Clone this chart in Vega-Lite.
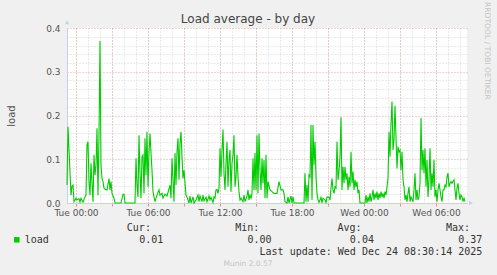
{
"$schema": "https://vega.github.io/schema/vega-lite/v6.json",
"width": 400,
"height": 175,
"autosize": "none",
"padding": {"left": 67, "top": 28, "right": 30, "bottom": 72},
"background": "#f0f0f0",
"config": {"view": {"fill": "#ffffff", "stroke": null}, "font": "DejaVu Sans"},
"data": {"values": [
{"time":"2025-12-22T23:15:00","load":0.041},{"time":"2025-12-22T23:20:00","load":0.174},{"time":"2025-12-22T23:35:00","load":0.018},{"time":"2025-12-22T23:40:00","load":0.039},{"time":"2025-12-22T23:45:00","load":0.041},{"time":"2025-12-22T23:50:00","load":0.003},
{"time":"2025-12-23T00:00:00","load":0.011},{"time":"2025-12-23T00:05:00","load":0.007},{"time":"2025-12-23T00:15:00","load":0.010},{"time":"2025-12-23T00:20:00","load":0.002},{"time":"2025-12-23T00:25:00","load":0.011},{"time":"2025-12-23T00:35:00","load":0.002},{"time":"2025-12-23T00:45:00","load":0.014},{"time":"2025-12-23T00:50:00","load":0.018},{"time":"2025-12-23T00:55:00","load":0.133},
{"time":"2025-12-23T01:00:00","load":0.140},{"time":"2025-12-23T01:05:00","load":0.049},{"time":"2025-12-23T01:10:00","load":0.018},{"time":"2025-12-23T01:15:00","load":0.091},{"time":"2025-12-23T01:20:00","load":0.045},{"time":"2025-12-23T01:25:00","load":0.003},{"time":"2025-12-23T01:30:00","load":0.110},{"time":"2025-12-23T01:35:00","load":0.064},{"time":"2025-12-23T01:40:00","load":0.087},{"time":"2025-12-23T01:45:00","load":0.171},{"time":"2025-12-23T01:50:00","load":0.018},{"time":"2025-12-23T01:55:00","load":0.155},
{"time":"2025-12-23T02:00:00","load":0.370},{"time":"2025-12-23T02:05:00","load":0.087},{"time":"2025-12-23T02:10:00","load":0.056},{"time":"2025-12-23T02:15:00","load":0.049},{"time":"2025-12-23T02:20:00","load":0.034},{"time":"2025-12-23T02:30:00","load":0.030},{"time":"2025-12-23T02:35:00","load":0.030},{"time":"2025-12-23T02:45:00","load":0.056},{"time":"2025-12-23T02:50:00","load":0.030},{"time":"2025-12-23T02:55:00","load":0.049},
{"time":"2025-12-23T03:00:00","load":0.022},{"time":"2025-12-23T03:10:00","load":0.011},{"time":"2025-12-23T03:15:00","load":0},{"time":"2025-12-23T03:45:00","load":0},{"time":"2025-12-23T03:55:00","load":0.020},{"time":"2025-12-23T04:00:00","load":0.020},{"time":"2025-12-23T04:05:00","load":0},{"time":"2025-12-23T04:55:00","load":0},
{"time":"2025-12-23T05:00:00","load":0.102},{"time":"2025-12-23T05:05:00","load":0.041},{"time":"2025-12-23T05:10:00","load":0.014},{"time":"2025-12-23T05:15:00","load":0.155},{"time":"2025-12-23T05:20:00","load":0.068},{"time":"2025-12-23T05:25:00","load":0.011},{"time":"2025-12-23T05:30:00","load":0.106},{"time":"2025-12-23T05:35:00","load":0.110},{"time":"2025-12-23T05:40:00","load":0.022},{"time":"2025-12-23T05:45:00","load":0.148},{"time":"2025-12-23T05:50:00","load":0.064},{"time":"2025-12-23T05:55:00","load":0.163},
{"time":"2025-12-23T06:00:00","load":0.037},{"time":"2025-12-23T06:05:00","load":0.114},{"time":"2025-12-23T06:10:00","load":0.159},{"time":"2025-12-23T06:15:00","load":0.114},{"time":"2025-12-23T06:20:00","load":0.075},{"time":"2025-12-23T06:25:00","load":0.026},{"time":"2025-12-23T06:30:00","load":0.014},{"time":"2025-12-23T06:35:00","load":0.003},{"time":"2025-12-23T06:45:00","load":0.018},{"time":"2025-12-23T06:55:00","load":0.030},
{"time":"2025-12-23T07:00:00","load":0.018},{"time":"2025-12-23T07:10:00","load":0.022},{"time":"2025-12-23T07:15:00","load":0.011},{"time":"2025-12-23T07:25:00","load":0.020},{"time":"2025-12-23T07:35:00","load":0.016},{"time":"2025-12-23T07:40:00","load":0.024},{"time":"2025-12-23T07:50:00","load":0.041},{"time":"2025-12-23T07:55:00","load":0.011},
{"time":"2025-12-23T08:00:00","load":0.102},{"time":"2025-12-23T08:05:00","load":0.053},{"time":"2025-12-23T08:10:00","load":0.003},{"time":"2025-12-23T08:15:00","load":0.114},{"time":"2025-12-23T08:20:00","load":0.041},{"time":"2025-12-23T08:25:00","load":0.117},{"time":"2025-12-23T08:30:00","load":0.148},{"time":"2025-12-23T08:35:00","load":0.053},{"time":"2025-12-23T08:40:00","load":0.136},{"time":"2025-12-23T08:45:00","load":0.163},{"time":"2025-12-23T08:50:00","load":0.106},{"time":"2025-12-23T08:55:00","load":0.056},
{"time":"2025-12-23T09:00:00","load":0.075},{"time":"2025-12-23T09:10:00","load":0.018},{"time":"2025-12-23T09:15:00","load":0.014},{"time":"2025-12-23T09:25:00","load":0},{"time":"2025-12-23T09:30:00","load":0.016},{"time":"2025-12-23T09:35:00","load":0},{"time":"2025-12-23T09:45:00","load":0.014},{"time":"2025-12-23T09:50:00","load":0},
{"time":"2025-12-23T10:00:00","load":0.007},{"time":"2025-12-23T10:10:00","load":0.018},{"time":"2025-12-23T10:15:00","load":0.003},{"time":"2025-12-23T10:20:00","load":0.016},{"time":"2025-12-23T10:30:00","load":0.003},{"time":"2025-12-23T10:35:00","load":0.018},{"time":"2025-12-23T10:40:00","load":0.005},{"time":"2025-12-23T10:50:00","load":0.013},{"time":"2025-12-23T10:55:00","load":0.003},
{"time":"2025-12-23T11:05:00","load":0.016},{"time":"2025-12-23T11:10:00","load":0.007},{"time":"2025-12-23T11:15:00","load":0.013},{"time":"2025-12-23T11:25:00","load":0.001},{"time":"2025-12-23T11:30:00","load":0.014},{"time":"2025-12-23T11:35:00","load":0.011},{"time":"2025-12-23T11:40:00","load":0.030},{"time":"2025-12-23T11:45:00","load":0.031},{"time":"2025-12-23T11:50:00","load":0.022},{"time":"2025-12-23T11:55:00","load":0.034},
{"time":"2025-12-23T12:00:00","load":0.125},{"time":"2025-12-23T12:05:00","load":0.060},{"time":"2025-12-23T12:10:00","load":0.121},{"time":"2025-12-23T12:15:00","load":0.168},{"time":"2025-12-23T12:20:00","load":0.068},{"time":"2025-12-23T12:25:00","load":0.030},{"time":"2025-12-23T12:30:00","load":0.091},{"time":"2025-12-23T12:35:00","load":0.140},{"time":"2025-12-23T12:40:00","load":0.037},{"time":"2025-12-23T12:45:00","load":0.098},{"time":"2025-12-23T12:50:00","load":0.121},{"time":"2025-12-23T12:55:00","load":0.026},
{"time":"2025-12-23T13:00:00","load":0.091},{"time":"2025-12-23T13:05:00","load":0.110},{"time":"2025-12-23T13:10:00","load":0.155},{"time":"2025-12-23T13:15:00","load":0.037},{"time":"2025-12-23T13:20:00","load":0.060},{"time":"2025-12-23T13:25:00","load":0.110},{"time":"2025-12-23T13:30:00","load":0.060},{"time":"2025-12-23T13:35:00","load":0.026},{"time":"2025-12-23T13:40:00","load":0.007},{"time":"2025-12-23T13:45:00","load":0.011},{"time":"2025-12-23T13:55:00","load":0.003},
{"time":"2025-12-23T14:00:00","load":0.018},{"time":"2025-12-23T14:05:00","load":0.003},{"time":"2025-12-23T14:15:00","load":0.016},{"time":"2025-12-23T14:20:00","load":0.030},{"time":"2025-12-23T14:25:00","load":0.007},{"time":"2025-12-23T14:30:00","load":0.018},{"time":"2025-12-23T14:35:00","load":0.011},{"time":"2025-12-23T14:40:00","load":0.022},{"time":"2025-12-23T14:45:00","load":0.102},{"time":"2025-12-23T14:50:00","load":0.030},{"time":"2025-12-23T14:55:00","load":0.114},
{"time":"2025-12-23T15:00:00","load":0.030},{"time":"2025-12-23T15:05:00","load":0.155},{"time":"2025-12-23T15:10:00","load":0.022},{"time":"2025-12-23T15:15:00","load":0.159},{"time":"2025-12-23T15:20:00","load":0.075},{"time":"2025-12-23T15:25:00","load":0.030},{"time":"2025-12-23T15:30:00","load":0.102},{"time":"2025-12-23T15:35:00","load":0.045},{"time":"2025-12-23T15:40:00","load":0.098},{"time":"2025-12-23T15:45:00","load":0.011},{"time":"2025-12-23T15:50:00","load":0.110},{"time":"2025-12-23T15:55:00","load":0.011},
{"time":"2025-12-23T16:00:00","load":0.049},{"time":"2025-12-23T16:10:00","load":0.030},{"time":"2025-12-23T16:20:00","load":0.026},{"time":"2025-12-23T16:30:00","load":0.022},{"time":"2025-12-23T16:35:00","load":0.022},{"time":"2025-12-23T16:45:00","load":0.022},{"time":"2025-12-23T16:55:00","load":0.049},
{"time":"2025-12-23T17:05:00","load":0.030},{"time":"2025-12-23T17:15:00","load":0.030},{"time":"2025-12-23T17:20:00","load":0.022},{"time":"2025-12-23T17:25:00","load":0.003},{"time":"2025-12-23T17:35:00","load":0},{"time":"2025-12-23T17:40:00","load":0.014},{"time":"2025-12-23T17:45:00","load":0},{"time":"2025-12-23T17:55:00","load":0.016},
{"time":"2025-12-23T18:00:00","load":0},{"time":"2025-12-23T18:05:00","load":0.014},{"time":"2025-12-23T18:10:00","load":0},{"time":"2025-12-23T19:00:00","load":0},
{"time":"2025-12-23T19:05:00","load":0.068},{"time":"2025-12-23T19:10:00","load":0.003},{"time":"2025-12-23T19:15:00","load":0.041},{"time":"2025-12-23T19:20:00","load":0.003},{"time":"2025-12-23T19:25:00","load":0.064},{"time":"2025-12-23T19:30:00","load":0.060},{"time":"2025-12-23T19:35:00","load":0.178},{"time":"2025-12-23T19:40:00","load":0.007},{"time":"2025-12-23T19:45:00","load":0.178},{"time":"2025-12-23T19:50:00","load":0.087},{"time":"2025-12-23T19:55:00","load":0.140},
{"time":"2025-12-23T20:00:00","load":0.060},{"time":"2025-12-23T20:05:00","load":0.022},{"time":"2025-12-23T20:10:00","load":0.007},{"time":"2025-12-23T20:15:00","load":0.001},{"time":"2025-12-23T20:25:00","load":0.013},{"time":"2025-12-23T20:30:00","load":0},{"time":"2025-12-23T20:35:00","load":0.011},{"time":"2025-12-23T20:45:00","load":0.007},{"time":"2025-12-23T20:50:00","load":0.001},{"time":"2025-12-23T20:55:00","load":0.014},
{"time":"2025-12-23T21:05:00","load":0.013},{"time":"2025-12-23T21:10:00","load":0.007},{"time":"2025-12-23T21:15:00","load":0.034},{"time":"2025-12-23T21:20:00","load":0.056},{"time":"2025-12-23T21:25:00","load":0.030},{"time":"2025-12-23T21:30:00","load":0.022},{"time":"2025-12-23T21:35:00","load":0.037},{"time":"2025-12-23T21:40:00","load":0.034},{"time":"2025-12-23T21:45:00","load":0.140},{"time":"2025-12-23T21:50:00","load":0.053},{"time":"2025-12-23T21:55:00","load":0.072},
{"time":"2025-12-23T22:00:00","load":0.106},{"time":"2025-12-23T22:05:00","load":0.196},{"time":"2025-12-23T22:10:00","load":0.030},{"time":"2025-12-23T22:15:00","load":0.083},{"time":"2025-12-23T22:20:00","load":0.045},{"time":"2025-12-23T22:25:00","load":0.083},{"time":"2025-12-23T22:30:00","load":0.053},{"time":"2025-12-23T22:35:00","load":0.068},{"time":"2025-12-23T22:40:00","load":0.030},{"time":"2025-12-23T22:45:00","load":0.060},{"time":"2025-12-23T22:50:00","load":0.037},{"time":"2025-12-23T22:55:00","load":0.117},
{"time":"2025-12-23T23:00:00","load":0.045},{"time":"2025-12-23T23:05:00","load":0.072},{"time":"2025-12-23T23:10:00","load":0.030},{"time":"2025-12-23T23:15:00","load":0.053},{"time":"2025-12-23T23:20:00","load":0.037},{"time":"2025-12-23T23:25:00","load":0.049},{"time":"2025-12-23T23:30:00","load":0.022},{"time":"2025-12-23T23:35:00","load":0.030},{"time":"2025-12-23T23:40:00","load":0},
{"time":"2025-12-24T00:05:00","load":0},{"time":"2025-12-24T00:10:00","load":0.018},{"time":"2025-12-24T00:15:00","load":0},{"time":"2025-12-24T00:20:00","load":0.014},{"time":"2025-12-24T00:25:00","load":0.003},{"time":"2025-12-24T00:30:00","load":0.022},{"time":"2025-12-24T00:35:00","load":0.003},{"time":"2025-12-24T00:40:00","load":0.014},{"time":"2025-12-24T00:45:00","load":0.030},{"time":"2025-12-24T00:50:00","load":0.007},{"time":"2025-12-24T00:55:00","load":0.022},
{"time":"2025-12-24T01:00:00","load":0.011},{"time":"2025-12-24T01:05:00","load":0.026},{"time":"2025-12-24T01:10:00","load":0.007},{"time":"2025-12-24T01:15:00","load":0.022},{"time":"2025-12-24T01:20:00","load":0.011},{"time":"2025-12-24T01:25:00","load":0.026},{"time":"2025-12-24T01:30:00","load":0.014},{"time":"2025-12-24T01:35:00","load":0.022},{"time":"2025-12-24T01:40:00","load":0.011},{"time":"2025-12-24T01:45:00","load":0.026},{"time":"2025-12-24T01:50:00","load":0.018},{"time":"2025-12-24T01:55:00","load":0.037},
{"time":"2025-12-24T02:00:00","load":0.056},{"time":"2025-12-24T02:05:00","load":0.163},{"time":"2025-12-24T02:10:00","load":0.106},{"time":"2025-12-24T02:15:00","load":0.182},{"time":"2025-12-24T02:20:00","load":0.232},{"time":"2025-12-24T02:25:00","load":0.121},{"time":"2025-12-24T02:30:00","load":0.145},{"time":"2025-12-24T02:35:00","load":0.222},{"time":"2025-12-24T02:40:00","load":0.150},{"time":"2025-12-24T02:45:00","load":0.079},{"time":"2025-12-24T02:50:00","load":0.129},{"time":"2025-12-24T02:55:00","load":0.117},
{"time":"2025-12-24T03:00:00","load":0.121},{"time":"2025-12-24T03:05:00","load":0.075},{"time":"2025-12-24T03:10:00","load":0.117},{"time":"2025-12-24T03:15:00","load":0.053},{"time":"2025-12-24T03:20:00","load":0.037},{"time":"2025-12-24T03:25:00","load":0.007},{"time":"2025-12-24T03:30:00","load":0.018},{"time":"2025-12-24T03:35:00","load":0.003},{"time":"2025-12-24T03:40:00","load":0.022},{"time":"2025-12-24T03:45:00","load":0.037},{"time":"2025-12-24T03:50:00","load":0.003},{"time":"2025-12-24T03:55:00","load":0.014},
{"time":"2025-12-24T04:05:00","load":0.003},{"time":"2025-12-24T04:10:00","load":0.030},{"time":"2025-12-24T04:15:00","load":0.068},{"time":"2025-12-24T04:20:00","load":0.007},{"time":"2025-12-24T04:25:00","load":0.030},{"time":"2025-12-24T04:30:00","load":0.007},{"time":"2025-12-24T04:35:00","load":0.014},{"time":"2025-12-24T04:40:00","load":0.045},{"time":"2025-12-24T04:45:00","load":0.194},{"time":"2025-12-24T04:50:00","load":0.075},{"time":"2025-12-24T04:55:00","load":0.121},
{"time":"2025-12-24T05:00:00","load":0.068},{"time":"2025-12-24T05:05:00","load":0.125},{"time":"2025-12-24T05:10:00","load":0.037},{"time":"2025-12-24T05:15:00","load":0.098},{"time":"2025-12-24T05:20:00","load":0.014},{"time":"2025-12-24T05:25:00","load":0.053},{"time":"2025-12-24T05:30:00","load":0.125},{"time":"2025-12-24T05:35:00","load":0.030},{"time":"2025-12-24T05:40:00","load":0.068},{"time":"2025-12-24T05:45:00","load":0.037},{"time":"2025-12-24T05:50:00","load":0.098},{"time":"2025-12-24T05:55:00","load":0.014},
{"time":"2025-12-24T06:00:00","load":0.030},{"time":"2025-12-24T06:05:00","load":0.003},{"time":"2025-12-24T06:10:00","load":0.030},{"time":"2025-12-24T06:15:00","load":0.045},{"time":"2025-12-24T06:20:00","load":0.030},{"time":"2025-12-24T06:25:00","load":0.014},{"time":"2025-12-24T06:30:00","load":0.003},{"time":"2025-12-24T06:35:00","load":0.030},{"time":"2025-12-24T06:40:00","load":0.030},{"time":"2025-12-24T06:45:00","load":0.041},{"time":"2025-12-24T06:50:00","load":0.037},{"time":"2025-12-24T06:55:00","load":0.060},
{"time":"2025-12-24T07:00:00","load":0.068},{"time":"2025-12-24T07:05:00","load":0.037},{"time":"2025-12-24T07:10:00","load":0.045},{"time":"2025-12-24T07:15:00","load":0.049},{"time":"2025-12-24T07:20:00","load":0.045},{"time":"2025-12-24T07:25:00","load":0.049},{"time":"2025-12-24T07:30:00","load":0.053},{"time":"2025-12-24T07:35:00","load":0.030},{"time":"2025-12-24T07:40:00","load":0.007},{"time":"2025-12-24T07:45:00","load":0.034},{"time":"2025-12-24T07:50:00","load":0.045},{"time":"2025-12-24T07:55:00","load":0.022},
{"time":"2025-12-24T08:00:00","load":0.007},{"time":"2025-12-24T08:05:00","load":0.018},{"time":"2025-12-24T08:10:00","load":0.014},{"time":"2025-12-24T08:15:00","load":0.003},{"time":"2025-12-24T08:20:00","load":0.011},{"time":"2025-12-24T08:25:00","load":0.003}
]},
"resolve": {"axis": {"x": "independent", "y": "independent"}},
"layer": [
{
"mark": {"type": "line", "opacity": 0},
"encoding": {
"x": {"field": "time", "type": "temporal", "title": null,
"scale": {"domain": [{"year": 2025, "month": 12, "date": 22, "hours": 23, "minutes": 15}, {"year": 2025, "month": 12, "date": 24, "hours": 8, "minutes": 35}]},
"axis": {"orient": "bottom", "tickCount": 34, "grid": true, "gridColor": "#d4d4d4", "gridDash": [1, 2], "labels": false, "ticks": false, "domain": false}},
"y": {"field": "load", "type": "quantitative", "title": null,
"scale": {"domain": [0, 0.4], "nice": false},
"axis": {"orient": "left", "values": [0.02, 0.04, 0.06, 0.08, 0.12, 0.14, 0.16, 0.18, 0.22, 0.24, 0.26, 0.28, 0.32, 0.34, 0.36, 0.38], "grid": true, "gridColor": "#d4d4d4", "gridDash": [1, 2], "labels": false, "ticks": false, "domain": false}}
}
},
{
"mark": {"type": "line", "opacity": 0},
"encoding": {
"x": {"field": "time", "type": "temporal", "title": null,
"axis": {"orient": "bottom", "tickCount": 12, "grid": true, "gridColor": "#e4a8a8", "gridDash": [1, 2], "labels": false, "ticks": true, "tickSize": 3, "tickColor": "#e09090", "domain": false}},
"y": {"field": "load", "type": "quantitative", "title": "load",
"axis": {"orient": "left", "values": [0, 0.1, 0.2, 0.3, 0.4], "format": ".1f", "grid": true, "gridColor": "#e4a8a8", "gridDash": [1, 2],
"ticks": false, "labelPadding": 7, "labelFont": "DejaVu Sans", "labelFontSize": 9, "labelColor": "#555555", "labelFlush": false, "labelOverlap": false,
"domain": true, "domainColor": "#c8d0f0",
"titleFont": "DejaVu Sans", "titleFontSize": 10, "titleFontWeight": "normal", "titleColor": "#555555", "titlePadding": 29}}
}
},
{
"mark": {"type": "line", "color": "#00cc00", "strokeWidth": 1.1},
"encoding": {
"x": {"field": "time", "type": "temporal", "title": null,
"axis": {"orient": "bottom", "tickCount": 6, "format": "%a %H:%M", "grid": false, "ticks": false, "labelPadding": 5, "labelFont": "DejaVu Sans", "labelFontSize": 9, "labelColor": "#555555", "labelFlush": false, "labelOverlap": false, "domain": true, "domainColor": "#c8d0f0"}},
"y": {"field": "load", "type": "quantitative", "axis": null}
}
},
{
"data": {"values": [{}]},
"mark": {"type": "point", "shape": "triangle-up", "filled": true, "size": 22, "color": "#c8d0f0", "opacity": 1, "clip": false},
"encoding": {"x": {"datum": {"year": 2025, "month": 12, "date": 22, "hours": 23, "minutes": 15}, "type": "temporal", "axis": null}, "y": {"datum": 0.413, "type": "quantitative", "axis": null}}
},
{
"data": {"values": [{}]},
"mark": {"type": "point", "shape": "triangle-right", "filled": true, "size": 22, "color": "#c8d0f0", "opacity": 1, "clip": false},
"encoding": {"x": {"datum": {"year": 2025, "month": 12, "date": 24, "hours": 8, "minutes": 55}, "type": "temporal", "axis": null}, "y": {"datum": 0, "type": "quantitative", "axis": null}}
},
{
"data": {"values": [{}]},
"mark": {"type": "text", "align": "center", "baseline": "middle", "font": "DejaVu Sans", "fontSize": 12, "color": "#444444", "clip": false, "text": "Load average - by day"},
"encoding": {"x": {"datum": {"year": 2025, "month": 12, "date": 23, "hours": 14, "minutes": 20}, "type": "temporal", "axis": null}, "y": {"datum": 0.4206, "type": "quantitative", "axis": null}}
},
{
"data": {"values": [{}]},
"mark": {"type": "text", "align": "right", "baseline": "alphabetic", "font": "DejaVu Sans Mono", "fontSize": 10, "color": "#333333", "clip": false,
"text": "Cur:\u00a0\u00a0\u00a0\u00a0\u00a0\u00a0\u00a0\u00a0\u00a0\u00a0\u00a0\u00a0\u00a0\u00a0Min:\u00a0\u00a0\u00a0\u00a0\u00a0\u00a0\u00a0\u00a0\u00a0\u00a0\u00a0\u00a0\u00a0Avg:\u00a0\u00a0\u00a0\u00a0\u00a0\u00a0\u00a0\u00a0\u00a0\u00a0\u00a0\u00a0\u00a0\u00a0Max:"},
"encoding": {"x": {"datum": {"year": 2025, "month": 12, "date": 24, "hours": 8, "minutes": 50}, "type": "temporal", "axis": null}, "y": {"datum": -0.0651, "type": "quantitative", "axis": null}}
},
{
"data": {"values": [{}]},
"mark": {"type": "text", "align": "right", "baseline": "alphabetic", "font": "DejaVu Sans Mono", "fontSize": 10, "lineHeight": 12, "color": "#333333", "clip": false,
"text": ["load\u00a0\u00a0\u00a0\u00a0\u00a0\u00a0\u00a0\u00a0\u00a0\u00a0\u00a0\u00a0\u00a0\u00a0\u00a00.01\u00a0\u00a0\u00a0\u00a0\u00a0\u00a0\u00a0\u00a0\u00a0\u00a0\u00a0\u00a0\u00a0\u00a00.00\u00a0\u00a0\u00a0\u00a0\u00a0\u00a0\u00a0\u00a0\u00a0\u00a0\u00a0\u00a0\u00a00.04\u00a0\u00a0\u00a0\u00a0\u00a0\u00a0\u00a0\u00a0\u00a0\u00a0\u00a0\u00a0\u00a0\u00a00.37",
"Last update: Wed Dec 24 08:30:14 2025"]},
"encoding": {"x": {"datum": {"year": 2025, "month": 12, "date": 24, "hours": 9, "minutes": 51, "seconds": 30}, "type": "temporal", "axis": null}, "y": {"datum": -0.0925, "type": "quantitative", "axis": null}}
},
{
"data": {"values": [{}]},
"mark": {"type": "point", "shape": "square", "filled": true, "size": 30, "color": "#00cc00", "opacity": 1, "clip": false},
"encoding": {"x": {"datum": {"year": 2025, "month": 12, "date": 22, "hours": 19, "minutes": 4}, "type": "temporal", "axis": null}, "y": {"datum": -0.0841, "type": "quantitative", "axis": null}}
},
{
"data": {"values": [{}]},
"mark": {"type": "text", "align": "center", "baseline": "middle", "font": "DejaVu Sans", "fontSize": 7.5, "color": "#c4c4c4", "clip": false, "text": "Munin 2.0.57"},
"encoding": {"x": {"datum": {"year": 2025, "month": 12, "date": 23, "hours": 14, "minutes": 20}, "type": "temporal", "axis": null}, "y": {"datum": -0.1394, "type": "quantitative", "axis": null}}
},
{
"data": {"values": [{}]},
"mark": {"type": "text", "align": "left", "baseline": "middle", "angle": 90, "font": "DejaVu Sans", "fontSize": 7.6, "color": "#c4c4c4", "clip": false, "text": "RRDTOOL / TOBI OETIKER"},
"encoding": {"x": {"datum": {"year": 2025, "month": 12, "date": 24, "hours": 10, "minutes": 15}, "type": "temporal", "axis": null}, "y": {"datum": 0.4594, "type": "quantitative", "axis": null}}
}
]
}
